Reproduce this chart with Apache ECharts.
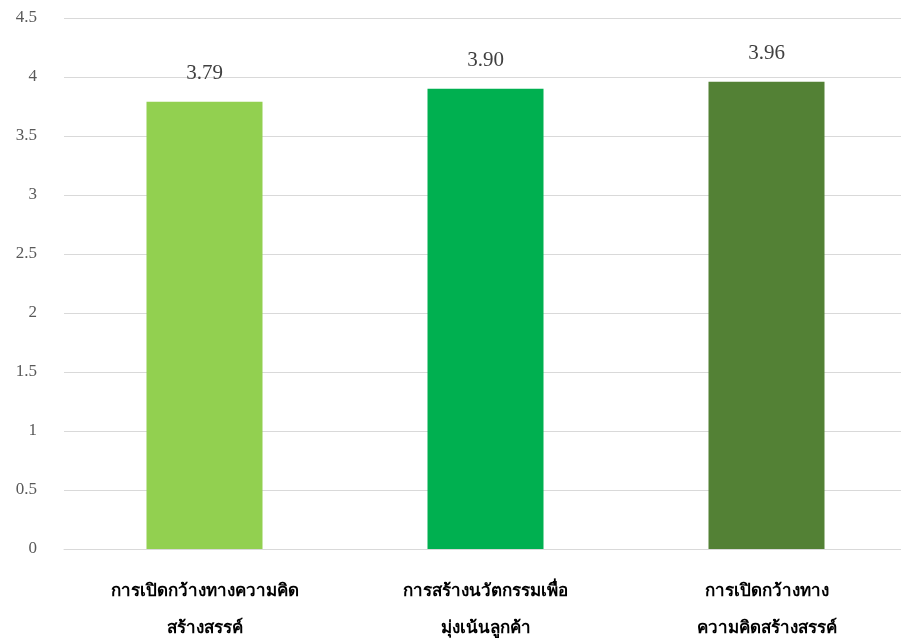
<!DOCTYPE html>
<html>
<head>
<meta charset="utf-8">
<script src="https://cdn.jsdelivr.net/npm/echarts@6/dist/echarts.min.js"></script>
<style>
html, body { margin: 0; padding: 0; background: #ffffff; }
#chart { width: 901px; height: 638px; }
</style>
</head>
<body>
<div id="chart"></div>
<script>
// Category names (two lines each) and mean scores per bar
const categories = [
  'การเปิดกว้างทางความคิด\nสร้างสรรค์',
  'การสร้างนวัตกรรมเพื่อ\nมุ่งเน้นลูกค้า',
  'การเปิดกว้างทาง\nความคิดสร้างสรรค์'
];
const scores = [3.79, 3.90, 3.96];
const barColors = ['#92D050', '#00B050', '#538135'];

const chart = echarts.init(document.getElementById('chart'), null, { renderer: 'canvas' });

chart.setOption({
  animation: false,
  backgroundColor: '#ffffff',
  grid: {
    left: 64, top: 18, width: 843, height: 531,
    containLabel: false, outerBoundsMode: 'none'
  },
  xAxis: {
    type: 'category',
    data: categories,
    axisLine: { show: true, lineStyle: { color: '#d9d9d9', width: 1 } },
    axisTick: { show: false },
    axisLabel: {
      color: '#000000',
      fontFamily: 'Liberation Serif, serif',
      fontWeight: 'bold',
      fontSize: 17,
      lineHeight: 37,
      margin: 24,
      interval: 0
    }
  },
  yAxis: {
    type: 'value',
    min: 0,
    max: 4.5,
    interval: 0.5,
    axisLine: { show: false },
    axisTick: { show: false },
    splitLine: { lineStyle: { color: '#d9d9d9', width: 1 } },
    axisLabel: {
      color: '#595959',
      fontFamily: 'Liberation Serif, serif',
      fontSize: 17,
      margin: 27
    }
  },
  series: [{
    type: 'bar',
    barWidth: 116,
    data: scores.map((v, i) => ({ value: v, itemStyle: { color: barColors[i] } })),
    label: {
      show: true,
      position: 'top',
      distance: 18,
      color: '#404040',
      fontFamily: 'Liberation Serif, serif',
      fontSize: 21,
      formatter: p => p.value.toFixed(2)
    }
  }]
});
</script>
</body>
</html>
